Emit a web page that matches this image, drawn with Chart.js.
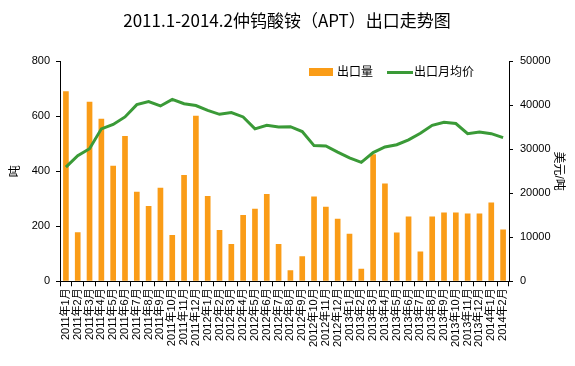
<!DOCTYPE html>
<html>
<head>
<meta charset="utf-8">
<script src="https://cdn.jsdelivr.net/npm/chart.js@4.4.1/dist/chart.umd.min.js"></script>
<style>
  html, body { margin: 0; padding: 0; background: #fff; }
  #wrap { width: 575px; height: 366px; }
</style>
</head>
<body>
<div id="wrap"><canvas id="c" width="575" height="366"></canvas></div>
<script>
// months 2011.1 - 2014.2
const months = [
  '2011年1月','2011年2月','2011年3月','2011年4月','2011年5月','2011年6月','2011年7月','2011年8月','2011年9月','2011年10月','2011年11月','2011年12月',
  '2012年1月','2012年2月','2012年3月','2012年4月','2012年5月','2012年6月','2012年7月','2012年8月','2012年9月','2012年10月','2012年11月','2012年12月',
  '2013年1月','2013年2月','2013年3月','2013年4月','2013年5月','2013年6月','2013年7月','2013年8月','2013年9月','2013年10月','2013年11月','2013年12月',
  '2014年1月','2014年2月'
];

// export volume, tonnes
const volume = [
  690, 178, 652, 590, 420, 528, 325, 273, 340, 168, 386, 601,
  310, 186, 135, 241, 263, 317, 135, 40, 91, 308, 271, 227,
  173, 46, 461, 355, 177, 235, 108, 235, 250, 250, 246, 246,
  286, 188
];

// average monthly export price, USD/t
const price = [
  25900, 28500, 30100, 34600, 35600, 37300, 40100, 40800, 39800, 41300, 40300, 39900,
  38800, 37900, 38300, 37300, 34600, 35400, 35000, 35100, 34000, 30800, 30700, 29300,
  28000, 27000, 29200, 30500, 31000, 32100, 33600, 35400, 36100, 35800, 33500, 33900,
  33500, 32600
];

const orange = '#fa9c17';
const green = '#3a9a37';
const cjk = '"Liberation Sans", Arial, "Noto Sans CJK SC", sans-serif';

// title + legend drawn by hand
const decor = {
  id: 'decor',
  afterDraw(chart) {
    const ctx = chart.ctx;
    ctx.save();
    ctx.fillStyle = '#000';
    ctx.font = '17px "Noto Sans CJK SC", sans-serif';
    ctx.textAlign = 'center';
    ctx.textBaseline = 'middle';
    ctx.fillText('2011.1-2014.2仲钨酸铵（APT）出口走势图', 287, 21);

    ctx.font = '12px ' + cjk;
    ctx.textAlign = 'left';
    ctx.fillStyle = orange;
    ctx.fillRect(309, 68, 24, 8);
    ctx.fillStyle = '#000';
    ctx.fillText('出口量', 337, 73);
    ctx.strokeStyle = green;
    ctx.lineWidth = 3;
    ctx.beginPath();
    ctx.moveTo(387, 72.5);
    ctx.lineTo(413, 72.5);
    ctx.stroke();
    ctx.fillText('出口月均价', 414, 73);
    ctx.restore();
  }
};

new Chart(document.getElementById('c'), {
  data: {
    labels: months,
    datasets: [
      {
        type: 'line',
        label: '出口月均价',
        data: price,
        yAxisID: 'y2',
        borderColor: green,
        borderWidth: 3,
        pointRadius: 0,
        tension: 0,
        order: 0
      },
      {
        type: 'bar',
        label: '出口量',
        data: volume,
        yAxisID: 'y',
        backgroundColor: orange,
        barPercentage: 0.48,
        categoryPercentage: 1,
        order: 1
      }
    ]
  },
  plugins: [decor],
  options: {
    responsive: false,
    animation: false,
    layout: { padding: { top: 61, bottom: 17, left: 4, right: 5 } },
    plugins: {
      legend: { display: false },
      title: { display: false },
      tooltip: { enabled: false }
    },
    scales: {
      x: {
        grid: { display: true, drawOnChartArea: false, color: '#000', tickLength: 5 },
        border: { color: '#000' },
        ticks: {
          autoSkip: false, minRotation: 90, maxRotation: 90,
          color: '#000', padding: 2,
          font: { size: 11, family: cjk }
        }
      },
      y: {
        position: 'left',
        min: 0, max: 800,
        ticks: { stepSize: 200, color: '#000', padding: 6, font: { size: 11, family: cjk } },
        grid: { display: true, drawOnChartArea: false, color: '#000', tickLength: 4 },
        border: { color: '#000' },
        title: { display: true, text: '吨', color: '#000', padding: 4, font: { size: 12, family: cjk } },
        afterFit(s) { s.width = 56; }
      },
      y2: {
        position: 'right',
        min: 0, max: 50000,
        ticks: {
          stepSize: 10000, color: '#000', padding: 7, font: { size: 11, family: cjk },
          callback: v => String(v)
        },
        grid: { display: true, drawOnChartArea: false, color: '#000', tickLength: 4 },
        border: { color: '#000' },
        title: { display: true, text: '美元/吨', color: '#000', padding: 4, font: { size: 12, family: cjk } },
        afterFit(s) { s.width = 61; }
      }
    }
  }
});
</script>
</body>
</html>
